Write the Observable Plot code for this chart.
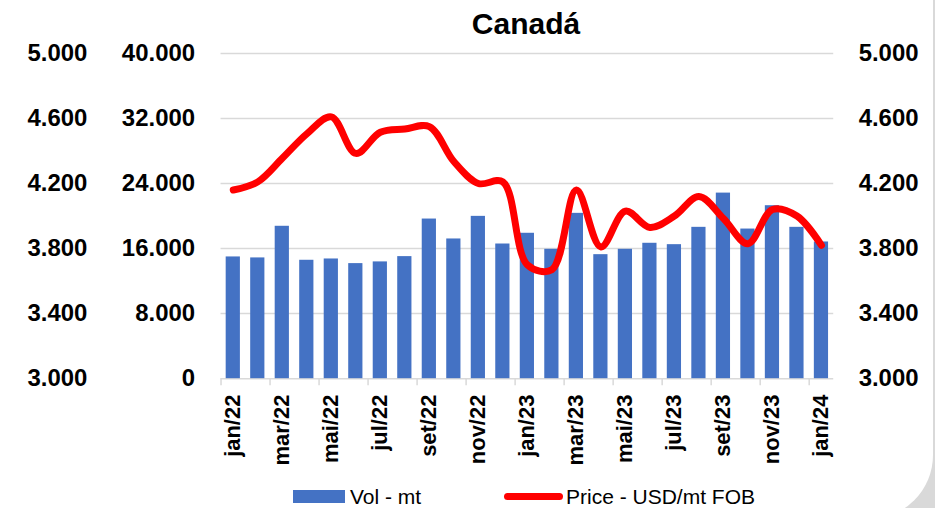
<!DOCTYPE html>
<html>
<head>
<meta charset="utf-8">
<script src="https://cdn.jsdelivr.net/npm/d3@7"></script>
<script src="https://cdn.jsdelivr.net/npm/@observablehq/plot@0.6"></script>
<style>
  html, body { margin: 0; padding: 0; background: #d9d9d9; overflow: hidden; }
  #panel { position: relative; width: 933px; height: 519px; background: #fff; border-bottom-right-radius: 64px; overflow: hidden; }
  #title { position: absolute; left: 0; width: 1052px; top: 9px; text-align: center; font: bold 30px "Liberation Sans", Arial, sans-serif; line-height: 30px; color: #000; }
  #chart { position: absolute; left: 0; top: 0; }
  .sw { position: absolute; }
  .lt { position: absolute; font: 21px "Liberation Sans", Arial, sans-serif; color: #000; line-height: 21px; }
</style>
</head>
<body>
<div id="panel">
  <div id="chart"></div>
  <div id="title">Canadá</div>
  <div class="sw" style="left:293px;top:490px;width:52px;height:13px;background:#4472c4"></div>
  <div class="lt" style="left:350px;top:486px">Vol - mt</div>
  <div class="sw" style="left:504px;top:493px;width:59px;height:7px;background:#ff0000;border-radius:4px"></div>
  <div class="lt" style="left:566px;top:486px">Price - USD/mt FOB</div>
</div>
<script>
const months = ["jan/22","fev/22","mar/22","abr/22","mai/22","jun/22","jul/22","ago/22","set/22","out/22","nov/22","dez/22",
                "jan/23","fev/23","mar/23","abr/23","mai/23","jun/23","jul/23","ago/23","set/23","out/23","nov/23","dez/23","jan/24"];
const volume = [14970, 14850, 18740, 14560, 14720, 14150, 14360, 15010, 19630, 17180, 19960, 16560,
                17880, 15910, 20330, 15250, 15910, 16650, 16480, 18610, 22820, 18400, 21270, 18610, 16810];
const price = [4160, 4210, 4355, 4505, 4610, 4385, 4515, 4535, 4550, 4335, 4200, 4210,
               3700, 3670, 4160, 3810, 4030, 3930, 4000, 4120, 3985, 3830, 4040, 4000, 3820];
const volTicks = [0, 8000, 16000, 24000, 32000, 40000];
const priceTicks = [3000, 3400, 3800, 4200, 4600, 5000];
const labelMonths = months.filter((m, i) => i % 2 === 0);

const fmt = d3.formatLocale({decimal: ",", thousands: ".", grouping: [3], currency: ["", ""]}).format(",d");
const rows = months.map((m, i) => ({month: m, volume: volume[i], price: price[i]}));
// price axis [3000,5000] shares the volume axis [0,40000]
const priceToY = p => (p - priceTicks[0]) / (priceTicks[priceTicks.length - 1] - priceTicks[0]) * volTicks[volTicks.length - 1];

const W = 935, H = 470, mL = 221, mR = 100, mT = 53, mB = 91;
const step = (W - mL - mR) / months.length;
const font = '"Liberation Sans", Arial, sans-serif';

const chart = Plot.plot({
  width: W, height: H,
  marginLeft: mL, marginRight: mR, marginTop: mT, marginBottom: mB,
  style: {fontFamily: font, fontWeight: "bold", color: "#000", background: "transparent", overflow: "visible"},
  x: {type: "band", domain: months, paddingInner: 0.42, paddingOuter: 0.21, round: false, axis: null},
  y: {domain: [volTicks[0], volTicks[volTicks.length - 1]], axis: null},
  marks: [
    Plot.gridY(volTicks, {stroke: "#d9d9d9", strokeOpacity: 1, strokeWidth: 1.5}),
    Plot.barY(rows, {x: "month", y: "volume", fill: "#4472c4"}),
    Plot.line(rows, {x: "month", y: d => priceToY(d.price), stroke: "#ff0000", strokeWidth: 7, curve: "catmull-rom", strokeLinecap: "round", strokeLinejoin: "round"}),
    Plot.axisX(labelMonths, {tickSize: 7, tickFormat: () => "", label: null, dx: -step / 2, stroke: "#d9d9d9", strokeWidth: 1.5}),
    Plot.axisX(labelMonths, {tickSize: 0, tickPadding: 16, tickRotate: -90, label: null, fontSize: 22, fontWeight: "bold"}),
    Plot.axisY(volTicks, {anchor: "left", tickSize: 0, tickPadding: 26, label: null, tickFormat: fmt, fontSize: 24, fontWeight: "bold"}),
    Plot.axisY(volTicks, {anchor: "left", tickSize: 0, tickPadding: 134, label: null, tickFormat: (d, i) => fmt(priceTicks[i]), fontSize: 24, fontWeight: "bold"}),
    Plot.axisY(volTicks, {anchor: "right", tickSize: 0, tickPadding: 25, label: null, tickFormat: (d, i) => fmt(priceTicks[i]), fontSize: 24, fontWeight: "bold"})
  ]
});
document.getElementById("chart").appendChild(chart);
</script>
</body>
</html>
